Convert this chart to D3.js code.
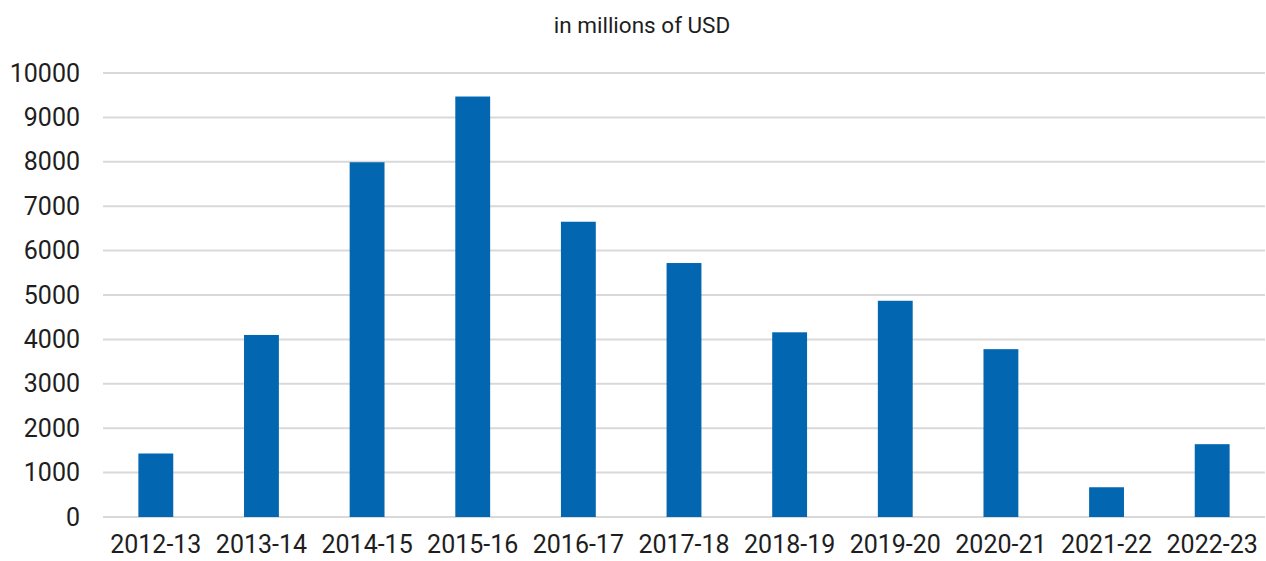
<!DOCTYPE html>
<html>
<head>
<meta charset="utf-8">
<script src="https://cdn.jsdelivr.net/npm/d3@7"></script>
<style>
  body { margin: 0; background: #fff; }
  text { font-family: Roboto, sans-serif; fill: #1e1e1e; }
</style>
</head>
<body>
<div id="chart"></div>
<script>
var svgWidth = 1266;
var svgHeight = 561;

var margin = { top: 73, right: 1, bottom: 44, left: 103 };

var width = svgWidth - margin.left - margin.right;
var height = svgHeight - margin.top - margin.bottom;

// data
var years = ["2012-13", "2013-14", "2014-15", "2015-16", "2016-17", "2017-18",
  "2018-19", "2019-20", "2020-21", "2021-22", "2022-23"];
var amounts = [1430, 4100, 7990, 9470, 6650, 5720, 4160, 4870, 3780, 670, 1640];
var yTicks = [0, 1000, 2000, 3000, 4000, 5000, 6000, 7000, 8000, 9000, 10000];

var svg = d3.select("#chart")
  .append("svg")
  .attr("width", svgWidth)
  .attr("height", svgHeight);

var chartGroup = svg.append("g")
  .attr("transform", `translate(${margin.left}, ${margin.top})`);

var xScale = d3.scaleBand()
  .domain(years)
  .range([0, width])
  .paddingInner(0.67)
  .paddingOuter(0.335);

var yScale = d3.scaleLinear()
  .domain([0, 10000])
  .range([height, 0]);

// gridlines
chartGroup.append("g")
  .selectAll("line")
  .data(yTicks)
  .enter()
  .append("line")
  .attr("x1", 0)
  .attr("x2", width)
  .attr("y1", d => yScale(d))
  .attr("y2", d => yScale(d))
  .attr("stroke", "#d9d9d9")
  .attr("stroke-width", 2);

// y axis labels
var leftAxis = d3.axisLeft(yScale)
  .tickValues(yTicks)
  .tickSize(0)
  .tickPadding(23)
  .tickFormat(d3.format("d"));

var yAxis = chartGroup.append("g")
  .call(leftAxis);
yAxis.select(".domain").remove();
yAxis.selectAll("text")
  .attr("font-size", "25px")
  .attr("fill", "#1e1e1e")
  .style("font-family", "Roboto, sans-serif");

// bars
chartGroup.selectAll("rect")
  .data(amounts)
  .enter()
  .append("rect")
  .attr("x", (d, i) => xScale(years[i]))
  .attr("y", d => yScale(d))
  .attr("width", xScale.bandwidth())
  .attr("height", d => height - yScale(d))
  .attr("fill", "#0266b1");

// x axis labels
var bottomAxis = d3.axisBottom(xScale)
  .tickSize(0)
  .tickPadding(18);

var xAxis = chartGroup.append("g")
  .attr("transform", `translate(0, ${height})`)
  .call(bottomAxis);
xAxis.select(".domain").remove();
xAxis.selectAll("text")
  .attr("font-size", "25px")
  .attr("fill", "#1e1e1e")
  .style("font-family", "Roboto, sans-serif");

// title
svg.append("text")
  .attr("x", 642)
  .attr("y", 33)
  .attr("text-anchor", "middle")
  .attr("font-size", "22.5px")
  .text("in millions of USD");
</script>
</body>
</html>
